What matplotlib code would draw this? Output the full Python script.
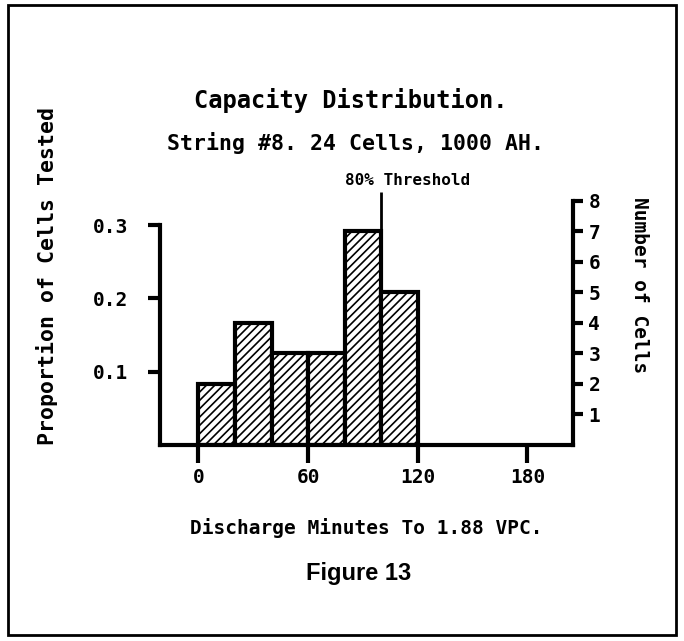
import matplotlib
matplotlib.use('Agg')
import matplotlib.pyplot as plt
from matplotlib.patches import Rectangle
import numpy as np

# data
bin_edges = [0, 20, 40, 60, 80, 100, 120]
cell_counts = [2, 4, 3, 3, 7, 5]
total_cells = 24
threshold = 100
x_ticks = [0, 60, 120, 180]
prop_ticks = [0.1, 0.2, 0.3]
count_ticks = [1, 2, 3, 4, 5, 6, 7, 8]

mono = 'DejaVu Sans Mono'
plt.rcParams['hatch.linewidth'] = 1.2

fig = plt.figure(figsize=(6.84, 6.41), dpi=100)
fig.patches.append(Rectangle((0.012, 0.01), 0.976, 0.982, transform=fig.transFigure,
                             fill=False, edgecolor='black', linewidth=2))

ax = fig.add_axes([0.234, 0.306, 0.604, 0.394])
proportions = np.array(cell_counts) / total_cells
lefts = np.array(bin_edges[:-1])
widths = np.diff(bin_edges)
ax.bar(lefts, proportions, width=widths, align='edge', color='white',
       edgecolor='black', linewidth=3, hatch='////', zorder=2)

ax.set_xlim(-21, 205)
ax.set_ylim(0, 0.345)

# threshold line: dotted through the bars, solid above them
ax.vlines(threshold, 0, proportions.max(), colors='black', linestyles=':', linewidth=2, zorder=3)
ax.vlines(threshold, proportions.max(), 0.345, colors='black', linewidth=2, zorder=3, clip_on=False)
ax.annotate('80% Threshold', xy=(threshold, 0.345), xytext=(-36, 4),
            textcoords='offset pixels', ha='left', va='bottom',
            fontsize=11.5, fontweight='bold', family=mono)

ax.spines['top'].set_visible(False)
for s in ['left', 'right', 'bottom']:
    ax.spines[s].set_linewidth(3)
ax.spines['left'].set_bounds(0, 0.3)
ax.spines['right'].set_bounds(0, 8 / total_cells)

ax.set_xticks(x_ticks)
ax.set_xticklabels([str(t) for t in x_ticks], fontsize=14, fontweight='bold', family=mono)
ax.set_yticks(prop_ticks)
ax.set_yticklabels([f'{t:.1f}' for t in prop_ticks], fontsize=14, fontweight='bold', family=mono)
ax.tick_params(axis='x', length=13, width=3, pad=4)
ax.tick_params(axis='y', length=9, width=3, pad=14)

ax2 = ax.twinx()
ax2.set_ylim(0, 0.345 * total_cells)
for s in ['top', 'left', 'bottom', 'right']:
    ax2.spines[s].set_visible(False)
ax2.set_yticks(count_ticks)
ax2.set_yticklabels([str(t) for t in count_ticks], fontsize=14, fontweight='bold', family=mono)
ax2.tick_params(axis='y', length=7, width=3, pad=4)

ax.set_xlabel('Discharge Minutes To 1.88 VPC.', fontsize=14, fontweight='bold',
              family=mono, labelpad=22)

fig.text(0.068, 0.57, 'Proportion of Cells Tested', rotation=90, ha='center', va='center',
         fontsize=15.5, fontweight='bold', family=mono)
fig.text(0.935, 0.555, 'Number of Cells', rotation=-90, ha='center', va='center',
         fontsize=14, fontweight='bold', family=mono)

fig.text(0.513, 0.843, 'Capacity Distribution.', ha='center', va='center',
         fontsize=17, fontweight='bold', family=mono)
fig.text(0.52, 0.777, 'String #8. 24 Cells, 1000 AH.', ha='center', va='center',
         fontsize=15.5, fontweight='bold', family=mono)
fig.text(0.525, 0.105, 'Figure 13', ha='center', va='center',
         fontsize=17, fontweight='bold', family='Liberation Sans')

fig.savefig('out.png', dpi=100)
